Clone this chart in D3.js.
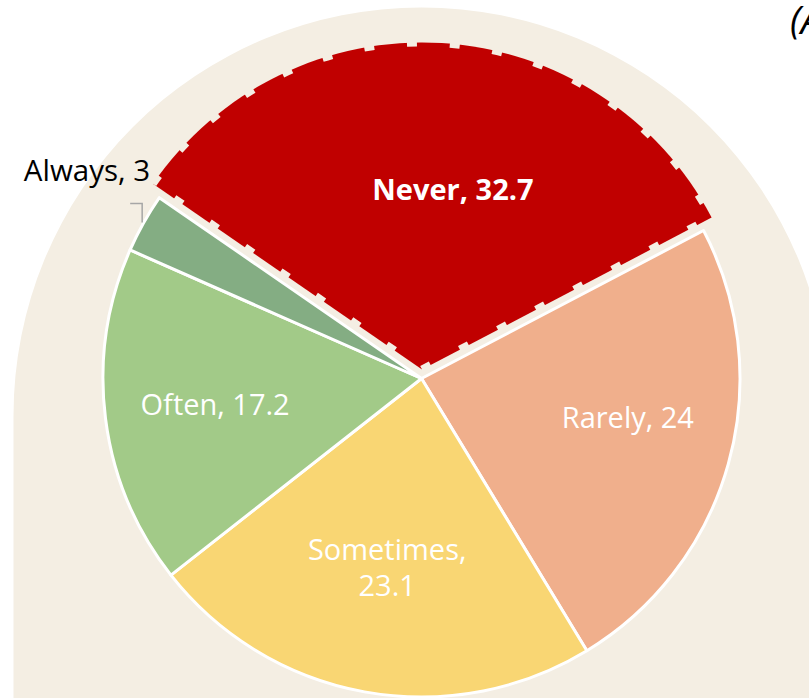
<!DOCTYPE html>
<html>
<head>
<meta charset="utf-8">
<script src="https://cdn.jsdelivr.net/npm/d3@7"></script>
<style>
  html, body { margin: 0; padding: 0; background: #ffffff; }
  svg { display: block; }
  text { font-family: "Open Sans", "Noto Sans", sans-serif; }
</style>
</head>
<body>
<script>
// Survey answer shares (percent)
const categories = ["Never", "Rarely", "Sometimes", "Often", "Always"];
const values = [32.7, 24, 23.1, 17.2, 3];
const sliceColors = ["#C00000", "#F0AF8C", "#F9D673", "#A2CA88", "#84AD83"];
const highlighted = "Never";      // slice pulled out of the pie
const outsideLabel = "Always";    // slice labelled outside with a leader line
const panelTag = "(A)";

const W = 809, H = 698;
const cx = 421.5, cy = 378.5;     // pie centre
const R = 318.5;                  // radius of regular slices
const Rhi = 327;                  // radius of highlighted slice
const explode = 9;                // pull-out distance of highlighted slice
const beige = "#F4EEE3";
const deg = Math.PI / 180;

const svg = d3.select("body").append("svg")
  .attr("width", W).attr("height", H);

// Arched backdrop panel behind the pie
const archR = 408, archCy = cy + 37;
const archLeft = cx - archR, archRight = cx + archR;
svg.append("path")
  .attr("d", `M${archLeft},${H} L${archLeft},${archCy} A${archR},${archR} 0 0 1 ${archRight},${archCy} L${archRight},${H} Z`)
  .attr("fill", beige);

const data = categories.map((c, i) => ({ cat: c, value: values[i], color: sliceColors[i] }));

const pie = d3.pie()
  .sort(null)
  .value(d => d.value)
  .startAngle(-55.4 * deg)
  .endAngle(-55.4 * deg + 2 * Math.PI);

const arcs = pie(data);
const arc = d3.arc().innerRadius(0).outerRadius(R);
const arcHi = d3.arc().innerRadius(0).outerRadius(Rhi);

const mid = a => (a.startAngle + a.endAngle) / 2;
const polar = (ang, r) => [Math.sin(ang) * r, -Math.cos(ang) * r];

const g = svg.append("g").attr("transform", `translate(${cx},${cy})`);

// regular slices
g.selectAll("path.slice")
  .data(arcs.filter(a => a.data.cat !== highlighted))
  .join("path")
  .attr("class", "slice")
  .attr("d", arc)
  .attr("fill", d => d.data.color)
  .attr("stroke", "#ffffff")
  .attr("stroke-width", 3)
  .attr("stroke-linejoin", "round");

// highlighted slice, pulled out, with a dashed edge
const hi = arcs.find(a => a.data.cat === highlighted);
const [ox, oy] = polar(mid(hi), explode);
const gHi = g.append("g").attr("transform", `translate(${ox},${oy})`);
gHi.append("path")
  .attr("d", arcHi(hi))
  .attr("fill", hi.data.color)
  .attr("stroke", beige)
  .attr("stroke-width", 8)
  .attr("stroke-dasharray", "10 33")
  .attr("stroke-linejoin", "round");

// labels inside slices
const labelR = { Never: 180, Rarely: 210, Sometimes: 192, Often: 208 };
const labelShift = { Never: [20, 0], Rarely: [4, -17], Sometimes: [0, 0], Often: [0, 0] };

arcs.filter(a => a.data.cat !== outsideLabel).forEach(a => {
  const isHi = a.data.cat === highlighted;
  let [x, y] = polar(mid(a), labelR[a.data.cat]);
  if (isHi) { x += ox; y += oy; }
  x += labelShift[a.data.cat][0];
  y += labelShift[a.data.cat][1];
  const full = `${a.data.cat}, ${a.data.value}`;
  const lines = full.length > 12 ? [`${a.data.cat},`, `${a.data.value}`] : [full];
  const lh = 36;
  const t = g.append("text")
    .attr("x", x).attr("y", y)
    .attr("text-anchor", "middle")
    .attr("fill", "#ffffff")
    .attr("font-size", 29)
    .attr("font-weight", isHi ? 700 : 400);
  lines.forEach((ln, i) => {
    t.append("tspan")
      .attr("x", x)
      .attr("y", y + (i - (lines.length - 1) / 2) * lh)
      .attr("dy", "0.35em")
      .text(ln);
  });
});

// outside label with elbow leader line
const out = arcs.find(a => a.data.cat === outsideLabel);
const [ex, ey] = polar(mid(out), R + 1.5);
const elbowY = ey - 19, elbowX = ex - 12;
g.append("path")
  .attr("d", `M${ex},${ey} L${ex},${elbowY} L${elbowX},${elbowY}`)
  .attr("fill", "none")
  .attr("stroke", "#A6A6A6")
  .attr("stroke-width", 1.5);
g.append("text")
  .attr("x", ex + 8)
  .attr("y", ey - 52)
  .attr("dy", "0.35em")
  .attr("text-anchor", "end")
  .attr("fill", "#000000")
  .attr("font-size", 29.5)
  .text(`${out.data.cat}, ${out.data.value}`);

// panel tag in the top-right corner
svg.append("text")
  .attr("x", 790)
  .attr("y", 34)
  .attr("font-size", 38)
  .attr("font-style", "italic")
  .attr("fill", "#000000")
  .text(panelTag);
</script>
</body>
</html>
